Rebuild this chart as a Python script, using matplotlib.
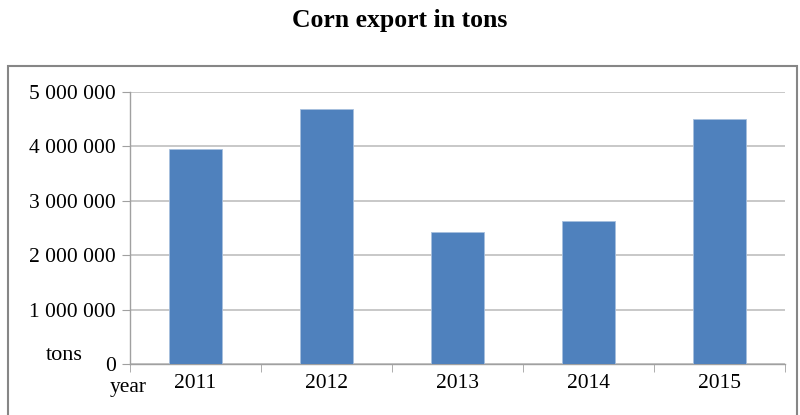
import matplotlib
matplotlib.use("Agg")
import matplotlib.pyplot as plt
from matplotlib.patches import Rectangle
from matplotlib.ticker import FuncFormatter

years = ["2011", "2012", "2013", "2014", "2015"]
exports = [3950000, 4690000, 2430000, 2630000, 4500000]
yticks = [0, 1000000, 2000000, 3000000, 4000000, 5000000]

plt.rcParams['font.family'] = ['Liberation Serif', 'DejaVu Serif']

W, H = 800, 415
fig = plt.figure(figsize=(8, 4.15), dpi=100)

# outer chart frame
fig.patches.append(Rectangle((8 / W, -0.05), (797 - 8) / W, (H - 66) / H + 0.05,
                             transform=fig.transFigure, fill=False,
                             edgecolor='#868686', linewidth=1.5))

fig.text(0.5, 1 - 20 / H, "Corn export in tons", ha='center', va='center',
         fontsize=18.5, fontweight='bold')

x0, x1, y0, y1 = 130, 785, 364, 92
ax = fig.add_axes([x0 / W, 1 - y0 / H, (x1 - x0) / W, (y0 - y1) / H])

xs = list(range(len(years)))
ax.bar(xs, exports, width=0.4, color='#4F81BD', edgecolor='#A7BFDE', linewidth=0.6, zorder=3)

ax.set_xlim(-0.5, len(years) - 0.5)
ax.set_ylim(0, 5000000)
ax.set_yticks(yticks)
ax.yaxis.set_major_formatter(FuncFormatter(lambda v, p: f"{int(v):,}".replace(",", " ")))
ax.set_xticks(xs)
ax.set_xticklabels(years)
ax.set_xticks([i - 0.5 for i in range(len(years) + 1)], minor=True)

ax.grid(axis='y', color='#BFBFBF', linewidth=1.2, zorder=0)
for s in ['top', 'right']:
    ax.spines[s].set_visible(False)
for s in ['left', 'bottom']:
    ax.spines[s].set_color('#A0A0A0')
    ax.spines[s].set_linewidth(1.0)

ax.tick_params(axis='y', which='major', length=6, color='#A0A0A0', labelsize=15.5, pad=4)
ax.tick_params(axis='x', which='major', length=0, labelsize=15.5, pad=7)
ax.tick_params(axis='x', which='minor', length=6, color='#A0A0A0')

fig.text(64 / W, 1 - 355 / H, "tons", ha='center', va='center', fontsize=16)
fig.text(128 / W, 1 - 387 / H, "year", ha='center', va='center', fontsize=15.5)

fig.savefig("out.png", dpi=100)
